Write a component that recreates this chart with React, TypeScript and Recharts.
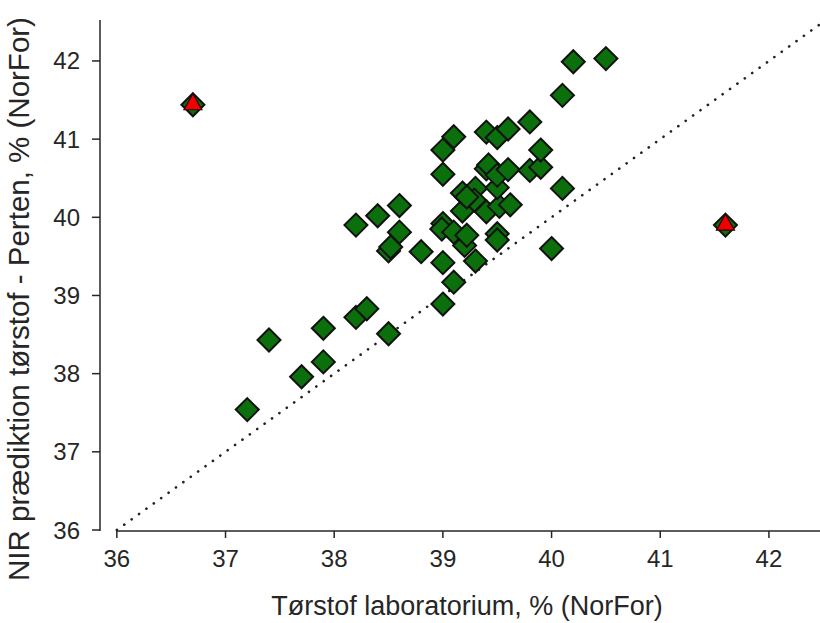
import { ScatterChart, Scatter, XAxis, YAxis, ReferenceLine } from 'recharts';

// Tørstof laboratorium (x) vs NIR prædiktion (y)
const labX = [
  37.2, 37.4, 37.7, 37.9, 37.9, 38.2, 38.3, 38.5, 38.2, 38.4,
  38.6, 38.6, 38.5, 38.52, 38.8, 39.0, 39.0, 39.0, 38.99, 39.0,
  39.0, 39.1, 39.1, 39.1, 39.2, 39.22, 39.3, 39.18, 39.18, 39.3,
  39.29, 39.4, 39.52, 39.62, 39.5, 39.4, 39.42, 39.5, 39.6, 39.8,
  39.9, 39.9, 39.4, 39.5, 39.6, 39.8, 40.1, 40.2, 40.5, 40.1,
  40.0, 39.5, 39.5, 39.22, 36.7, 41.6,
];
const nirY = [
  37.54, 38.43, 37.96, 38.15, 38.58, 38.72, 38.83, 38.51, 39.9, 40.02,
  40.15, 39.81, 39.57, 39.62, 39.56, 38.89, 39.42, 39.92, 39.85, 40.55,
  40.86, 41.03, 39.17, 39.81, 39.64, 39.77, 39.44, 40.08, 40.31, 40.37,
  40.22, 40.07, 40.14, 40.16, 40.38, 40.62, 40.67, 40.54, 40.61, 40.6,
  40.64, 40.86, 41.09, 41.02, 41.13, 41.22, 41.56, 41.99, 42.03, 40.37,
  39.6, 39.79, 39.71, 40.26, 41.44, 39.9,
];

// flagged samples (red triangles)
const outlierX = [36.7, 41.6];
const outlierY = [41.44, 39.9];

const xTicks = [36, 37, 38, 39, 40, 41, 42];
const yTicks = [36, 37, 38, 39, 40, 41, 42];

const X_MIN = 35.845;
const X_MAX = 42.47;
const Y_MIN = 35.987;
const Y_MAX = 42.524;

const points = labX.map((x, i) => ({ x, y: nirY[i] }));
const outliers = outlierX.map((x, i) => ({ x, y: outlierY[i] }));

const FONT = '"Liberation Sans", Arial, sans-serif';
const INK = '#262626';

const Diamond = (props: any) => {
  const { cx, cy } = props;
  const r = 11.5;
  return (
    <polygon
      points={`${cx},${cy - r} ${cx + r},${cy} ${cx},${cy + r} ${cx - r},${cy}`}
      fill="#0b700b"
      stroke="#111"
      strokeWidth={2}
    />
  );
};

const Triangle = (props: any) => {
  const { cx, cy } = props;
  return (
    <polygon
      points={`${cx},${cy - 11} ${cx + 9},${cy + 5} ${cx - 9},${cy + 5}`}
      fill="#f00000"
      stroke="#300"
      strokeWidth={1.2}
    />
  );
};

const XTitle = (props: any) => {
  const { viewBox } = props;
  return (
    <text x={viewBox.x + 367} y={615} textAnchor="middle" fill={INK} fontSize={27} fontFamily={FONT}>
      Tørstof laboratorium, % (NorFor)
    </text>
  );
};

const YTitle = () => {
  const cx = 29;
  const cy = 299;
  return (
    <text
      x={cx}
      y={cy}
      transform={`rotate(-90, ${cx}, ${cy})`}
      textAnchor="middle"
      fill={INK}
      fontSize={29.5}
      fontFamily={FONT}
    >
      NIR prædiktion tørstof - Perten, % (NorFor)
    </text>
  );
};

export default function App() {
  return (
    <div style={{ position: 'absolute', left: 0, top: 0, background: '#fff' }}>
      <ScatterChart
        width={820}
        height={623}
        margin={{ top: 20, right: 0, bottom: 0, left: 0 }}
        style={{ fontFamily: FONT }}
      >
        <XAxis
          type="number"
          dataKey="x"
          domain={[X_MIN, X_MAX]}
          ticks={xTicks}
          allowDataOverflow
          height={92}
          axisLine={false}
          tickLine={{ stroke: INK, strokeWidth: 1.5 }}
          tickSize={7}
          tickMargin={12}
          tick={{ fill: INK, fontSize: 24, fontFamily: FONT }}
          label={{ content: XTitle }}
        />
        <YAxis
          type="number"
          dataKey="y"
          domain={[Y_MIN, Y_MAX]}
          ticks={yTicks}
          allowDataOverflow
          width={100}
          axisLine={{ stroke: INK, strokeWidth: 1.5 }}
          tickLine={{ stroke: INK, strokeWidth: 1.5 }}
          tickSize={8}
          tickMargin={12}
          tick={{ fill: INK, fontSize: 24, fontFamily: FONT }}
          label={{ content: YTitle }}
        />
        <ReferenceLine
          segment={[{ x: 36, y: Y_MIN }, { x: X_MAX, y: Y_MIN }]}
          stroke={INK}
          strokeWidth={1.5}
        />
        <ReferenceLine
          segment={[{ x: 36, y: 36 }, { x: X_MAX, y: X_MAX }]}
          stroke="#222"
          strokeWidth={2.6}
          strokeDasharray="0.1 9"
          strokeLinecap="round"
        />
        <Scatter data={points} shape={Diamond} isAnimationActive={false} />
        <Scatter data={outliers} shape={Triangle} isAnimationActive={false} />
      </ScatterChart>
    </div>
  );
}
